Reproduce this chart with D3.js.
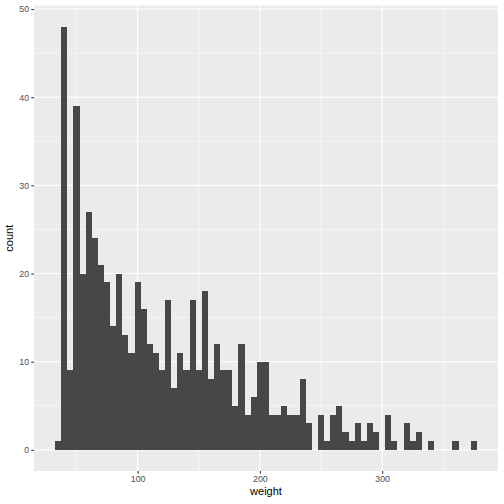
<!DOCTYPE html>
<html lang="en">
<head>
    <meta charset="UTF-8">
    <script src="https://d3js.org/d3.v7.min.js"></script>
    <title>Histogram of weight</title>
    <style>
        body { margin: 0; background: #fff; }
        svg { font-family: "Liberation Sans", Arial, sans-serif; display: block; }
    </style>
</head>
<body>
    <div id="chart"></div>

    <script>
        // Histogram bins (binwidth 5), centres and counts
        const binCenters = [35, 40, 45, 50, 55, 60, 65, 70, 75, 80, 85, 90, 95,
            100, 105, 110, 115, 120, 125, 130, 135, 140, 145, 150, 155, 160, 165, 170, 175,
            180, 185, 190, 195, 200, 205, 210, 215, 220, 225, 230, 235, 240, 245,
            250, 255, 260, 265, 270, 275, 280, 285, 290, 295, 300, 305, 310, 315,
            320, 325, 330, 335, 340, 345, 350, 355, 360, 365, 370, 375];
        const counts = [1, 48, 9, 39, 20, 27, 24, 21, 19, 14, 20, 13, 11,
            19, 16, 12, 11, 9, 17, 7, 11, 9, 17, 9, 18, 8, 12, 9, 9,
            5, 12, 4, 6, 10, 10, 4, 4, 5, 4, 4, 8, 3, 0,
            4, 1, 4, 5, 2, 1, 3, 1, 3, 2, 0, 4, 1, 0,
            3, 1, 2, 0, 1, 0, 0, 0, 1, 0, 0, 1];
        const binWidth = 5;
        const xTicks = [100, 200, 300];
        const xMinor = [50, 150, 250, 350];
        const yTicks = [0, 10, 20, 30, 40, 50];
        const yMinor = [5, 15, 25, 35, 45];

        const W = 504, H = 504;
        const panel = { left: 34, right: 498, top: 5.5, bottom: 471 };

        const svg = d3.select("#chart").append("svg")
            .attr("width", W)
            .attr("height", H);

        // ggplot-style 5% expansion
        const xLo = binCenters[0] - binWidth / 2;
        const xHi = binCenters[binCenters.length - 1] + binWidth / 2;
        const xPad = (xHi - xLo) * 0.05;
        const x = d3.scaleLinear()
            .domain([xLo - xPad, xHi + xPad])
            .range([panel.left, panel.right]);

        const yMax = d3.max(counts);
        const y = d3.scaleLinear()
            .domain([-yMax * 0.05, yMax * 1.05])
            .range([panel.bottom, panel.top]);

        // panel background
        svg.append("rect")
            .attr("x", panel.left)
            .attr("y", panel.top)
            .attr("width", panel.right - panel.left)
            .attr("height", panel.bottom - panel.top)
            .attr("fill", "#EBEBEB");

        const grid = svg.append("g");
        grid.selectAll(".ymin").data(yMinor).enter().append("line")
            .attr("x1", panel.left).attr("x2", panel.right)
            .attr("y1", d => y(d)).attr("y2", d => y(d))
            .attr("stroke", "#fff").attr("stroke-width", 0.53);
        grid.selectAll(".xmin").data(xMinor).enter().append("line")
            .attr("y1", panel.top).attr("y2", panel.bottom)
            .attr("x1", d => x(d)).attr("x2", d => x(d))
            .attr("stroke", "#fff").attr("stroke-width", 0.53);
        grid.selectAll(".ymaj").data(yTicks).enter().append("line")
            .attr("x1", panel.left).attr("x2", panel.right)
            .attr("y1", d => y(d)).attr("y2", d => y(d))
            .attr("stroke", "#fff").attr("stroke-width", 1.07);
        grid.selectAll(".xmaj").data(xTicks).enter().append("line")
            .attr("y1", panel.top).attr("y2", panel.bottom)
            .attr("x1", d => x(d)).attr("x2", d => x(d))
            .attr("stroke", "#fff").attr("stroke-width", 1.07);

        // Bars
        const bars = binCenters.map((c, i) => ({ c: c, n: counts[i] })).filter(d => d.n > 0);
        svg.selectAll(".bar")
            .data(bars)
            .enter()
            .append("rect")
            .attr("class", "bar")
            .attr("x", d => x(d.c - binWidth / 2))
            .attr("width", d => x(d.c + binWidth / 2) - x(d.c - binWidth / 2))
            .attr("y", d => y(d.n))
            .attr("height", d => y(0) - y(d.n))
            .attr("fill", "#474747")
            .attr("shape-rendering", "crispEdges");

        // Axes
        const xAxis = svg.append("g")
            .attr("transform", `translate(0,${panel.bottom})`)
            .call(d3.axisBottom(x).tickValues(xTicks).tickSize(2.75).tickPadding(2.2));
        const yAxis = svg.append("g")
            .attr("transform", `translate(${panel.left},0)`)
            .call(d3.axisLeft(y).tickValues(yTicks).tickSize(2.75).tickPadding(2.2));

        [xAxis, yAxis].forEach(g => {
            g.select(".domain").remove();
            g.selectAll(".tick line").attr("stroke", "#333333").attr("stroke-width", 1.07);
            g.selectAll(".tick text")
                .attr("fill", "#4D4D4D")
                .style("font-size", "8.8px")
                .style("font-family", "'Liberation Sans', Arial, sans-serif");
        });

        // Axis titles
        svg.append("text")
            .attr("x", (panel.left + panel.right) / 2)
            .attr("y", 495)
            .attr("text-anchor", "middle")
            .style("font-size", "11px")
            .attr("fill", "#000")
            .text("weight");

        svg.append("text")
            .attr("transform", `translate(13,${(panel.top + panel.bottom) / 2}) rotate(-90)`)
            .attr("text-anchor", "middle")
            .style("font-size", "11px")
            .attr("fill", "#000")
            .text("count");
    </script>
</body>
</html>
